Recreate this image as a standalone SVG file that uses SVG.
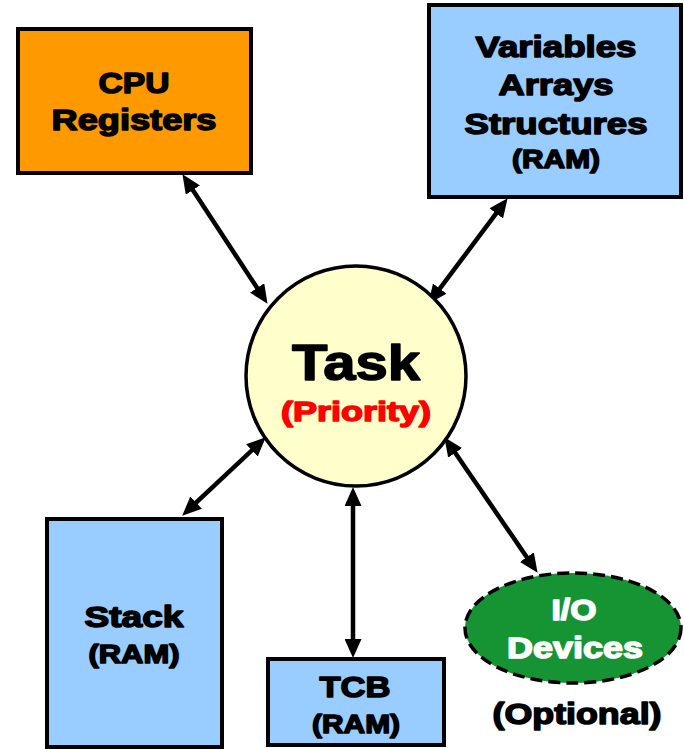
<svg xmlns="http://www.w3.org/2000/svg" width="684" height="749" viewBox="0 0 684 749">
  <defs>
    <marker id="head" markerUnits="userSpaceOnUse" markerWidth="19" markerHeight="17" refX="10" refY="8.5" orient="auto-start-reverse">
      <path d="M0,0 L19,8.5 L0,17 z" fill="#000"/>
    </marker>
    <style>
      .box { stroke: #000; stroke-width: 4; }
      .ram { fill: #99CCFF; }
      .lbl { font-family: "Liberation Sans", Arial, sans-serif; font-weight: bold; text-anchor: middle; fill: #000; stroke: #000; stroke-width: 1.5; stroke-linejoin: round; }
      .wire { stroke: #000; stroke-width: 4.5; fill: none; marker-start: url(#head); marker-end: url(#head); }
    </style>
  </defs>
  <rect width="684" height="749" fill="#fff"/>

  <!-- connectors -->
  <g id="connectors">
    <line class="wire" x1="187.4" y1="181.7" x2="262.6" y2="296.3"/>
    <line class="wire" x1="502.2" y1="205.4" x2="433.8" y2="296.6"/>
    <line class="wire" x1="259.2" y1="443.5" x2="188.8" y2="509.5"/>
    <line class="wire" x1="353" y1="496" x2="353" y2="649"/>
    <line class="wire" x1="449.5" y1="444.6" x2="532.5" y2="565.4"/>
  </g>

  <!-- CPU registers -->
  <g id="cpu">
    <rect class="box" x="18" y="29" width="233" height="144" fill="#FF9900"/>
    <text class="lbl" x="134" y="93" font-size="30" textLength="71" lengthAdjust="spacingAndGlyphs">CPU</text>
    <text class="lbl" x="134" y="130" font-size="30" textLength="165" lengthAdjust="spacingAndGlyphs">Registers</text>
  </g>

  <!-- global data -->
  <g id="data">
    <rect class="box ram" x="429" y="5" width="252" height="192"/>
    <text class="lbl" x="556" y="57" font-size="30" textLength="161" lengthAdjust="spacingAndGlyphs">Variables</text>
    <text class="lbl" x="556" y="95" font-size="30" textLength="115" lengthAdjust="spacingAndGlyphs">Arrays</text>
    <text class="lbl" x="556" y="134" font-size="30" textLength="183" lengthAdjust="spacingAndGlyphs">Structures</text>
    <text class="lbl" x="556" y="168" font-size="26" textLength="88" lengthAdjust="spacingAndGlyphs">(RAM)</text>
  </g>

  <!-- task -->
  <g id="task">
    <circle cx="356" cy="376" r="110" fill="#FFFFCC" stroke="#000" stroke-width="3.5"/>
    <text class="lbl" x="356" y="380" font-size="50" textLength="128" lengthAdjust="spacingAndGlyphs">Task</text>
    <text class="lbl" x="356" y="421" font-size="28" style="fill:#FF0000;stroke:#FF0000" textLength="150" lengthAdjust="spacingAndGlyphs">(Priority)</text>
  </g>

  <!-- stack -->
  <g id="stack">
    <rect class="box ram" x="47" y="519" width="175" height="228"/>
    <text class="lbl" x="134" y="627" font-size="30" textLength="99" lengthAdjust="spacingAndGlyphs">Stack</text>
    <text class="lbl" x="134" y="663" font-size="26" textLength="91" lengthAdjust="spacingAndGlyphs">(RAM)</text>
  </g>

  <!-- task control block -->
  <g id="tcb">
    <rect class="box ram" x="268" y="659" width="176" height="86"/>
    <text class="lbl" x="355" y="697" font-size="30" textLength="71" lengthAdjust="spacingAndGlyphs">TCB</text>
    <text class="lbl" x="356" y="733" font-size="26" textLength="88" lengthAdjust="spacingAndGlyphs">(RAM)</text>
  </g>

  <!-- I/O devices -->
  <g id="io">
    <ellipse cx="573" cy="628" rx="108" ry="55" fill="#169433" stroke="#000" stroke-width="3.5" stroke-dasharray="12 6"/>
    <text class="lbl" x="574" y="620" font-size="30" style="fill:#fff;stroke:#fff" textLength="45" lengthAdjust="spacingAndGlyphs">I/O</text>
    <text class="lbl" x="575" y="658" font-size="30" style="fill:#fff;stroke:#fff" textLength="136" lengthAdjust="spacingAndGlyphs">Devices</text>
    <text class="lbl" x="577" y="724" font-size="30" textLength="169" lengthAdjust="spacingAndGlyphs">(Optional)</text>
  </g>
</svg>
